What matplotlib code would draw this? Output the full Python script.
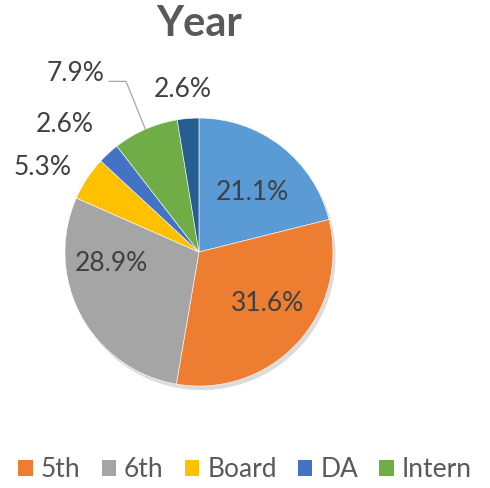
import matplotlib.pyplot as plt
import numpy as np
from matplotlib.patches import Patch

# Data
categories = ["4th", "5th", "6th", "Board", "DA", "Intern", "Other"]
shares = [21.1, 31.6, 28.9, 5.3, 2.6, 7.9, 2.6]
legend_names = ["5th", "6th", "Board", "DA", "Intern"]

colors = ["#5B9BD5", "#ED7D31", "#A5A5A5", "#FFC000", "#4472C4", "#70AD47", "#255E91"]
# label placement: (radius factor, angle offset in degrees)
label_place = [(0.60, -4), (0.64, 6), (0.66, -21), (1.33, 5), (1.38, 4), (1.62, 11), (1.22, 1)]

plt.rcParams["font.family"] = ["Lato", "DejaVu Sans"]
text_color = "#595959"

fig = plt.figure(figsize=(4.9, 4.88), dpi=100)
ax = fig.add_axes([0.0, 0.0, 1.0, 1.0])

# soft shadow
ax.pie(shares, startangle=90, counterclock=False, colors=["#dcdcdc"] * len(shares),
       center=(0.02, -0.03), radius=1.0, wedgeprops=dict(linewidth=0))
wedges, _ = ax.pie(shares, startangle=90, counterclock=False, colors=colors,
                   radius=1.0, wedgeprops=dict(edgecolor="white", linewidth=0.4))

ax.set_xlim(-1.485, 2.172)
ax.set_ylim(-1.761, 1.881)
ax.set_aspect("equal")
ax.axis("off")

for w, val, (rf, off) in zip(wedges, shares, label_place):
    mid_deg = (w.theta1 + w.theta2) / 2
    mid = np.deg2rad(mid_deg + off)
    x, y = rf * np.cos(mid), rf * np.sin(mid)
    ax.text(x, y, f"{val:.1f}%", ha="center", va="center", fontsize=19, color="#404040")
    if rf > 1.5:
        # leader line for the far label
        ex, ey = np.cos(np.deg2rad(mid_deg)), np.sin(np.deg2rad(mid_deg))
        ax.plot([x + 0.25, x + 0.375, ex], [y - 0.06, y - 0.06, ey],
                color="#a6a6a6", linewidth=0.9)

ax.text(0.0, 1.70, "Year", ha="center", va="center", fontsize=30,
        fontweight="bold", color=text_color)

handles = [Patch(facecolor=colors[categories.index(n)], edgecolor="none") for n in legend_names]
fig.legend(handles, legend_names, loc="center", bbox_to_anchor=(0.5, 0.037), ncol=5,
           frameon=False, fontsize=19, handlelength=0.55, handleheight=0.55,
           handletextpad=0.3, columnspacing=0.8, labelcolor=text_color)

fig.savefig("out.png", dpi=100)
